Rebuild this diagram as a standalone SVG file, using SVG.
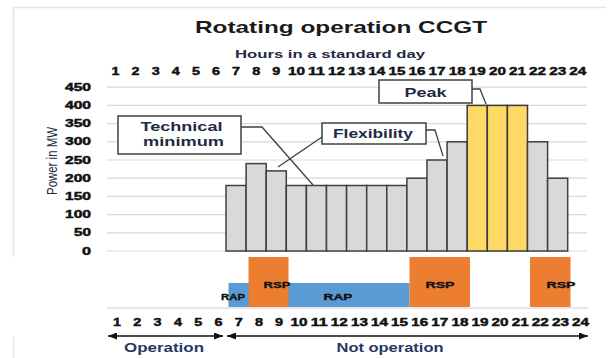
<svg xmlns="http://www.w3.org/2000/svg" width="609" height="358" viewBox="0 0 609 358">
<style>
text{font-family:"Liberation Sans",Arial,sans-serif;}
.grid{stroke:#d9d9d9;stroke-width:1.2;}
.bar{fill:#d9d9d9;stroke:#3f3f3f;stroke-width:1.5;}
.peak{fill:#ffd966;stroke:#3a3a3a;stroke-width:1.5;}
.hr{font-size:11px;font-weight:bold;fill:#111;stroke:#111;stroke-width:0.45;text-anchor:middle;}
.yl{font-size:10px;font-weight:bold;fill:#111;stroke:#111;stroke-width:0.45;text-anchor:end;}
.box{fill:#fff;stroke:#404040;stroke-width:1.5;}
.bl{font-size:13px;font-weight:bold;fill:#1f2a44;text-anchor:middle;}
.lead{fill:none;stroke:#404040;stroke-width:1.3;}
.rsp{fill:#ed7d31;}
.rap{fill:#5b9bd5;}
.sm{font-size:9.5px;font-weight:bold;fill:#111;stroke:#111;stroke-width:0.35;text-anchor:middle;}
.op{font-size:12px;font-weight:bold;fill:#1f3864;text-anchor:middle;}
.arr{stroke:#111;stroke-width:1.5;fill:none;marker-start:url(#ah);marker-end:url(#ah);}
</style>
<defs>
<marker id="ah" markerUnits="userSpaceOnUse" markerWidth="9" markerHeight="7" refX="9" refY="3.5" orient="auto-start-reverse"><path d="M0,0 L9,3.5 L0,7 z" fill="#111"/></marker>
</defs>
<rect width="609" height="358" fill="#fff"/>
<g id="frame" fill="none" stroke="#e4e4e4" stroke-width="1.5">
<path d="M13.5 257 V7.5 H606"/>
<path d="M13.5 337 V358"/>
</g>
<g id="titles">
<text x="195" y="33" font-size="17" font-weight="bold" fill="#1a1a1a" textLength="292" lengthAdjust="spacingAndGlyphs">Rotating operation CCGT</text>
<text x="235" y="58" font-size="11" font-weight="bold" fill="#1f2a44" textLength="190" lengthAdjust="spacingAndGlyphs">Hours in a standard day</text>
<text transform="translate(57 161) scale(1.4 1) rotate(-90)" font-size="11" fill="#1f2a44" text-anchor="middle" textLength="68" lengthAdjust="spacingAndGlyphs">Power in MW</text>
</g>
<g id="grid">
<line class="grid" x1="107" y1="87.2" x2="587" y2="87.2"/>
<line class="grid" x1="107" y1="105.4" x2="587" y2="105.4"/>
<line class="grid" x1="107" y1="123.6" x2="587" y2="123.6"/>
<line class="grid" x1="107" y1="141.8" x2="587" y2="141.8"/>
<line class="grid" x1="107" y1="160" x2="587" y2="160"/>
<line class="grid" x1="107" y1="178.2" x2="587" y2="178.2"/>
<line class="grid" x1="107" y1="196.4" x2="587" y2="196.4"/>
<line class="grid" x1="107" y1="214.6" x2="587" y2="214.6"/>
<line class="grid" x1="107" y1="232.8" x2="587" y2="232.8"/>
<line class="grid" x1="107" y1="251" x2="587" y2="251"/>
</g>
<g id="yaxis">
<text class="yl" x="91" y="90.7" textLength="26" lengthAdjust="spacingAndGlyphs">450</text>
<text class="yl" x="91" y="108.9" textLength="26" lengthAdjust="spacingAndGlyphs">400</text>
<text class="yl" x="91" y="127.1" textLength="26" lengthAdjust="spacingAndGlyphs">350</text>
<text class="yl" x="91" y="145.3" textLength="26" lengthAdjust="spacingAndGlyphs">300</text>
<text class="yl" x="91" y="163.5" textLength="26" lengthAdjust="spacingAndGlyphs">250</text>
<text class="yl" x="91" y="181.7" textLength="26" lengthAdjust="spacingAndGlyphs">200</text>
<text class="yl" x="91" y="199.9" textLength="26" lengthAdjust="spacingAndGlyphs">150</text>
<text class="yl" x="91" y="218.1" textLength="26" lengthAdjust="spacingAndGlyphs">100</text>
<text class="yl" x="91" y="236.3" textLength="17" lengthAdjust="spacingAndGlyphs">50</text>
<text class="yl" x="91" y="254.5" textLength="9" lengthAdjust="spacingAndGlyphs">0</text>
</g>
<g id="hours-top">
<text class="hr" x="115.5" y="75" textLength="8" lengthAdjust="spacingAndGlyphs">1</text>
<text class="hr" x="135.6" y="75" textLength="8" lengthAdjust="spacingAndGlyphs">2</text>
<text class="hr" x="155.7" y="75" textLength="8" lengthAdjust="spacingAndGlyphs">3</text>
<text class="hr" x="175.8" y="75" textLength="8" lengthAdjust="spacingAndGlyphs">4</text>
<text class="hr" x="195.9" y="75" textLength="8" lengthAdjust="spacingAndGlyphs">5</text>
<text class="hr" x="216" y="75" textLength="8" lengthAdjust="spacingAndGlyphs">6</text>
<text class="hr" x="236.1" y="75" textLength="8" lengthAdjust="spacingAndGlyphs">7</text>
<text class="hr" x="256.2" y="75" textLength="8" lengthAdjust="spacingAndGlyphs">8</text>
<text class="hr" x="276.3" y="75" textLength="8" lengthAdjust="spacingAndGlyphs">9</text>
<text class="hr" x="296.4" y="75" textLength="17" lengthAdjust="spacingAndGlyphs">10</text>
<text class="hr" x="316.5" y="75" textLength="17" lengthAdjust="spacingAndGlyphs">11</text>
<text class="hr" x="336.6" y="75" textLength="17" lengthAdjust="spacingAndGlyphs">12</text>
<text class="hr" x="356.7" y="75" textLength="17" lengthAdjust="spacingAndGlyphs">13</text>
<text class="hr" x="376.8" y="75" textLength="17" lengthAdjust="spacingAndGlyphs">14</text>
<text class="hr" x="396.9" y="75" textLength="17" lengthAdjust="spacingAndGlyphs">15</text>
<text class="hr" x="417" y="75" textLength="17" lengthAdjust="spacingAndGlyphs">16</text>
<text class="hr" x="437.1" y="75" textLength="17" lengthAdjust="spacingAndGlyphs">17</text>
<text class="hr" x="457.2" y="75" textLength="17" lengthAdjust="spacingAndGlyphs">18</text>
<text class="hr" x="477.3" y="75" textLength="17" lengthAdjust="spacingAndGlyphs">19</text>
<text class="hr" x="497.4" y="75" textLength="17" lengthAdjust="spacingAndGlyphs">20</text>
<text class="hr" x="517.5" y="75" textLength="17" lengthAdjust="spacingAndGlyphs">21</text>
<text class="hr" x="537.6" y="75" textLength="17" lengthAdjust="spacingAndGlyphs">22</text>
<text class="hr" x="557.7" y="75" textLength="17" lengthAdjust="spacingAndGlyphs">23</text>
<text class="hr" x="577.8" y="75" textLength="17" lengthAdjust="spacingAndGlyphs">24</text>
</g>
<g id="bars">
<rect class="bar" x="226" y="185.5" width="20.1" height="65.5"/>
<rect class="bar" x="246.1" y="163.6" width="20.1" height="87.4"/>
<rect class="bar" x="266.2" y="170.9" width="20.1" height="80.1"/>
<rect class="bar" x="286.3" y="185.5" width="20.1" height="65.5"/>
<rect class="bar" x="306.4" y="185.5" width="20.1" height="65.5"/>
<rect class="bar" x="326.5" y="185.5" width="20.1" height="65.5"/>
<rect class="bar" x="346.6" y="185.5" width="20.1" height="65.5"/>
<rect class="bar" x="366.7" y="185.5" width="20.1" height="65.5"/>
<rect class="bar" x="386.8" y="185.5" width="20.1" height="65.5"/>
<rect class="bar" x="406.9" y="178.2" width="20.1" height="72.8"/>
<rect class="bar" x="427" y="160" width="20.1" height="91"/>
<rect class="bar" x="447.1" y="141.8" width="20.1" height="109.2"/>
<rect class="peak" x="467.2" y="105.4" width="20.1" height="145.6"/>
<rect class="peak" x="487.3" y="105.4" width="20.1" height="145.6"/>
<rect class="peak" x="507.4" y="105.4" width="20.1" height="145.6"/>
<rect class="bar" x="527.5" y="141.8" width="20.1" height="109.2"/>
<rect class="bar" x="547.6" y="178.2" width="20.1" height="72.8"/>
</g>
<g id="connectors">
<path class="lead" d="M241 127 H262 L313 185"/>
<path class="lead" d="M322 137 L278 167"/>
<path class="lead" d="M426 130 H435 L443 156"/>
<path class="lead" d="M472 89 H480 L486 104"/>
<line class="arr" x1="108" y1="336" x2="223" y2="336"/>
<line class="arr" x1="227" y1="336" x2="588" y2="336"/>
</g>
<g id="technical-minimum">
<rect class="box" x="118" y="116" width="123" height="38"/>
<text class="bl" x="181.5" y="130.5" textLength="82" lengthAdjust="spacingAndGlyphs">Technical</text>
<text class="bl" x="183.5" y="145.5" textLength="81" lengthAdjust="spacingAndGlyphs">minimum</text>
</g>
<g id="flexibility">
<rect class="box" x="322" y="123" width="104" height="21"/>
<text class="bl" x="373" y="138" textLength="80" lengthAdjust="spacingAndGlyphs">Flexibility</text>
</g>
<g id="peak">
<rect class="box" x="379" y="80" width="93" height="23"/>
<text class="bl" x="425.5" y="96.5" textLength="42" lengthAdjust="spacingAndGlyphs">Peak</text>
</g>
<g id="reserves">
<rect class="rap" x="228.5" y="283" width="181" height="24"/>
<rect class="rsp" x="248.5" y="257" width="40" height="50"/>
<rect class="rsp" x="409.5" y="257" width="60.5" height="50"/>
<rect class="rsp" x="530" y="257" width="40.5" height="50"/>
<text class="sm" x="233" y="299.5" textLength="24" lengthAdjust="spacingAndGlyphs">RAP</text>
<text class="sm" x="277" y="288" textLength="27" lengthAdjust="spacingAndGlyphs">RSP</text>
<text class="sm" x="338" y="299.5" textLength="29" lengthAdjust="spacingAndGlyphs">RAP</text>
<text class="sm" x="440" y="288" textLength="29" lengthAdjust="spacingAndGlyphs">RSP</text>
<text class="sm" x="561" y="288" textLength="29" lengthAdjust="spacingAndGlyphs">RSP</text>
<line x1="107" y1="308" x2="588" y2="308" stroke="#d0d0d0" stroke-width="1.2"/>
</g>
<g id="hours-bottom">
<text class="hr" x="117" y="326" textLength="8" lengthAdjust="spacingAndGlyphs">1</text>
<text class="hr" x="137.3" y="326" textLength="8" lengthAdjust="spacingAndGlyphs">2</text>
<text class="hr" x="157.6" y="326" textLength="8" lengthAdjust="spacingAndGlyphs">3</text>
<text class="hr" x="177.9" y="326" textLength="8" lengthAdjust="spacingAndGlyphs">4</text>
<text class="hr" x="198.2" y="326" textLength="8" lengthAdjust="spacingAndGlyphs">5</text>
<text class="hr" x="218.5" y="326" textLength="8" lengthAdjust="spacingAndGlyphs">6</text>
<text class="hr" x="238.8" y="326" textLength="8" lengthAdjust="spacingAndGlyphs">7</text>
<text class="hr" x="258.9" y="326" textLength="8" lengthAdjust="spacingAndGlyphs">8</text>
<text class="hr" x="279" y="326" textLength="8" lengthAdjust="spacingAndGlyphs">9</text>
<text class="hr" x="299.1" y="326" textLength="17" lengthAdjust="spacingAndGlyphs">10</text>
<text class="hr" x="319.2" y="326" textLength="17" lengthAdjust="spacingAndGlyphs">11</text>
<text class="hr" x="339.3" y="326" textLength="17" lengthAdjust="spacingAndGlyphs">12</text>
<text class="hr" x="359.4" y="326" textLength="17" lengthAdjust="spacingAndGlyphs">13</text>
<text class="hr" x="379.5" y="326" textLength="17" lengthAdjust="spacingAndGlyphs">14</text>
<text class="hr" x="399.6" y="326" textLength="17" lengthAdjust="spacingAndGlyphs">15</text>
<text class="hr" x="419.7" y="326" textLength="17" lengthAdjust="spacingAndGlyphs">16</text>
<text class="hr" x="439.8" y="326" textLength="17" lengthAdjust="spacingAndGlyphs">17</text>
<text class="hr" x="459.9" y="326" textLength="17" lengthAdjust="spacingAndGlyphs">18</text>
<text class="hr" x="480" y="326" textLength="17" lengthAdjust="spacingAndGlyphs">19</text>
<text class="hr" x="500.1" y="326" textLength="17" lengthAdjust="spacingAndGlyphs">20</text>
<text class="hr" x="520.2" y="326" textLength="17" lengthAdjust="spacingAndGlyphs">21</text>
<text class="hr" x="540.3" y="326" textLength="17" lengthAdjust="spacingAndGlyphs">22</text>
<text class="hr" x="560.4" y="326" textLength="17" lengthAdjust="spacingAndGlyphs">23</text>
<text class="hr" x="580.5" y="326" textLength="17" lengthAdjust="spacingAndGlyphs">24</text>
</g>
<g id="operation-labels">
<text class="op" x="164" y="352" textLength="80" lengthAdjust="spacingAndGlyphs">Operation</text>
<text class="op" x="390" y="352" textLength="107" lengthAdjust="spacingAndGlyphs">Not operation</text>
</g>
</svg>
